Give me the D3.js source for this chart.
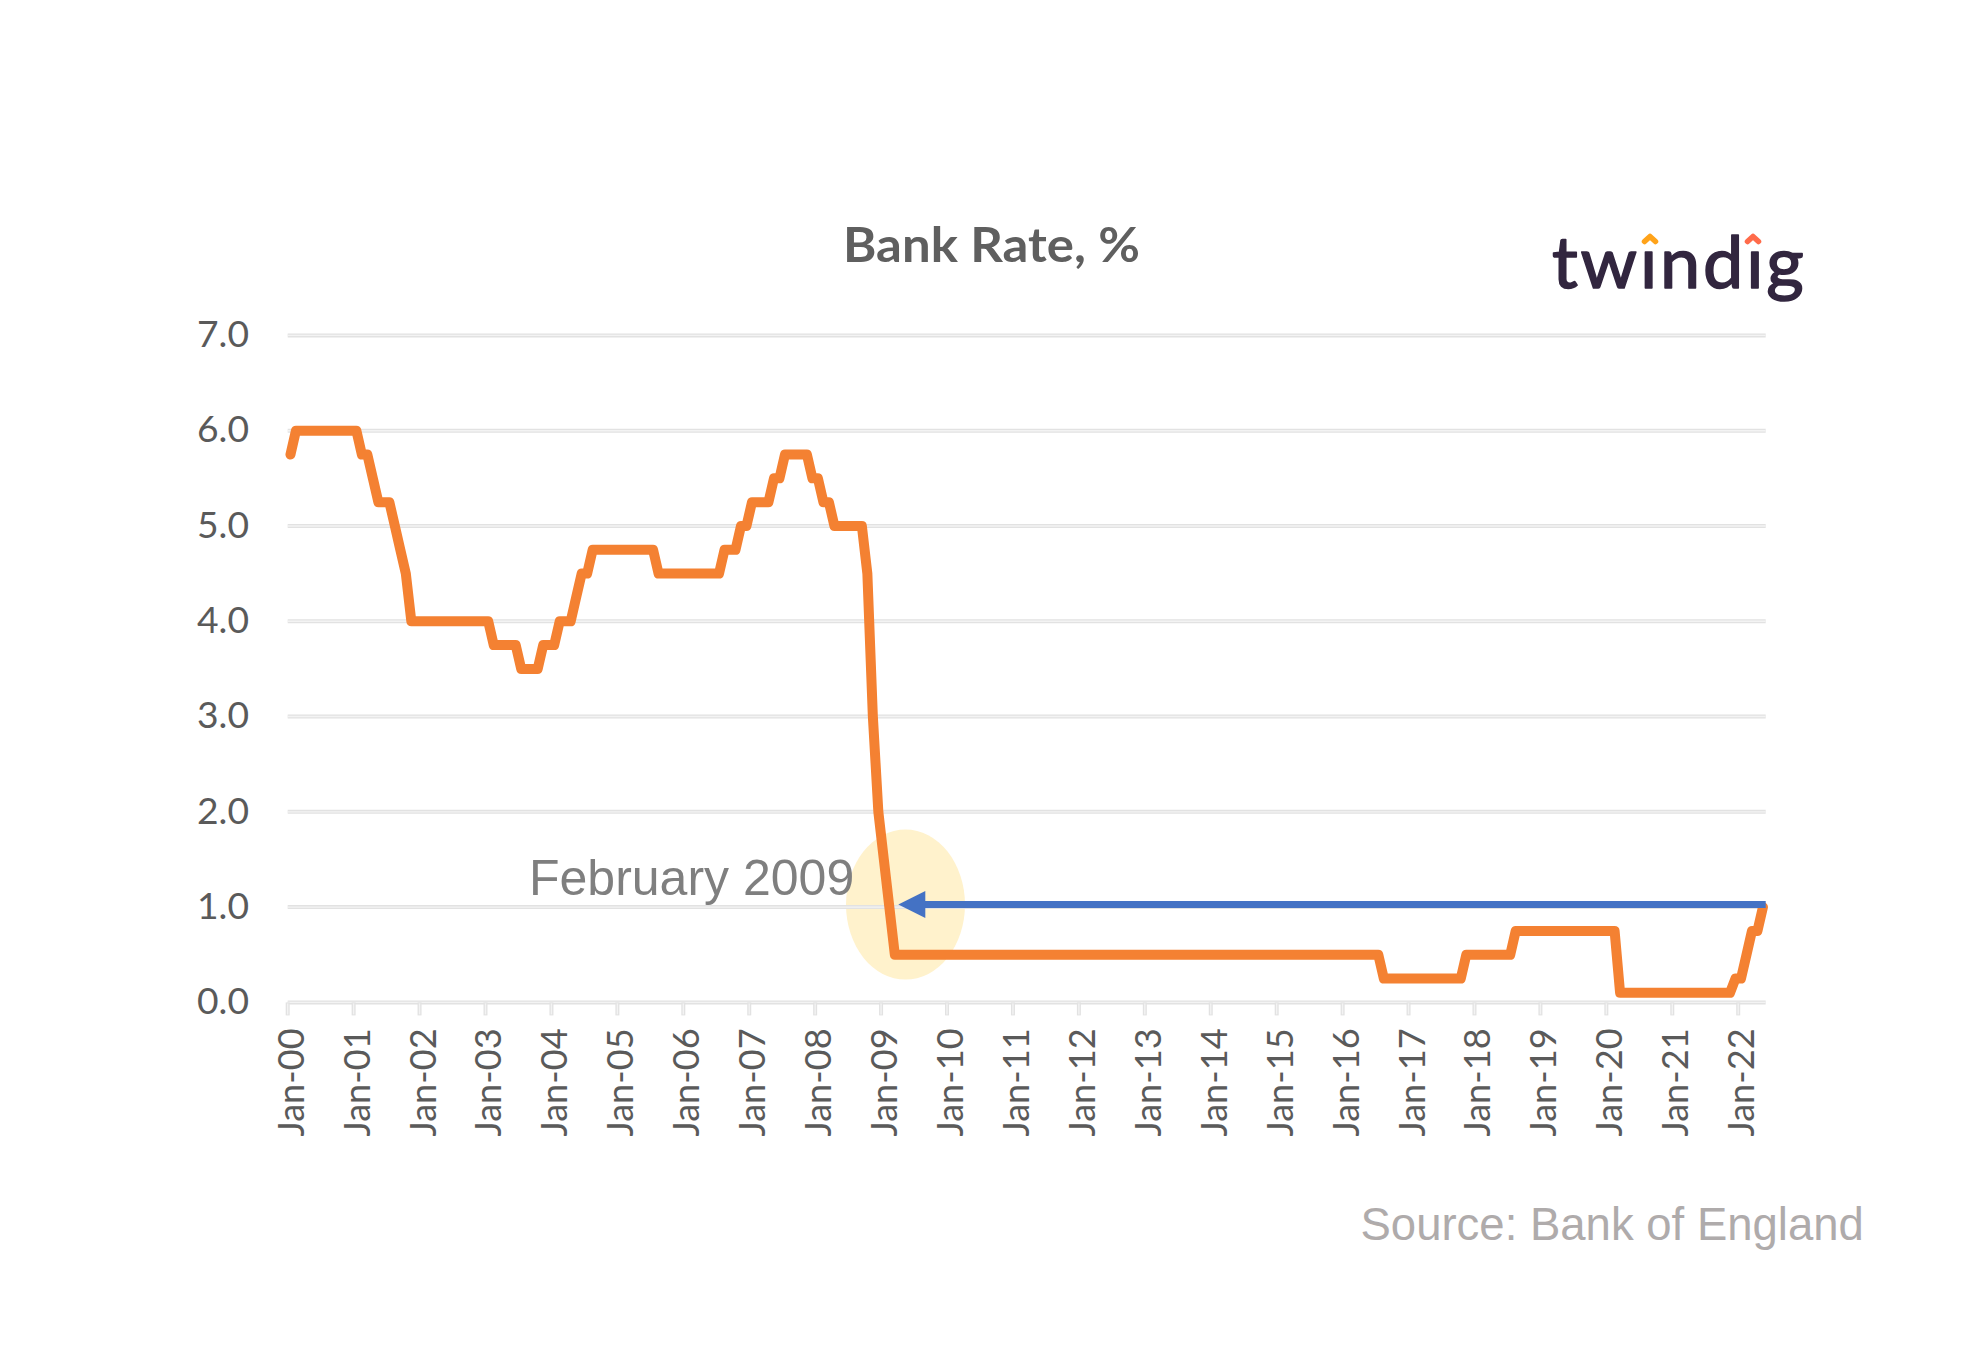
<!DOCTYPE html>
<html>
<head>
<meta charset="utf-8">
<script src="https://cdn.jsdelivr.net/npm/d3@7"></script>
<style>html,body{margin:0;padding:0;background:#fff}svg{display:block}</style>
</head>
<body>
<svg id="chart" width="1984" height="1366"></svg>
<script>
const chartTitle = "Bank Rate, %";
const sourceNote = "Source: Bank of England";
const calloutLabel = "February 2009";
const logoWord = "twindig";
const yTicks = [0, 1, 2, 3, 4, 5, 6, 7];
const tickLabels = ["Jan-00","Jan-01","Jan-02","Jan-03","Jan-04","Jan-05","Jan-06","Jan-07","Jan-08","Jan-09","Jan-10","Jan-11","Jan-12","Jan-13","Jan-14","Jan-15","Jan-16","Jan-17","Jan-18","Jan-19","Jan-20","Jan-21","Jan-22"];
const rate2000 = [5.75,6,6,6,6,6,6,6,6,6,6,6];
const rate2001 = [6,5.75,5.75,5.5,5.25,5.25,5.25,5,4.75,4.5,4,4];
const rate2002 = [4,4,4,4,4,4,4,4,4,4,4,4];
const rate2003 = [4,3.75,3.75,3.75,3.75,3.75,3.5,3.5,3.5,3.5,3.75,3.75];
const rate2004 = [3.75,4,4,4,4.25,4.5,4.5,4.75,4.75,4.75,4.75,4.75];
const rate2005 = [4.75,4.75,4.75,4.75,4.75,4.75,4.75,4.5,4.5,4.5,4.5,4.5];
const rate2006 = [4.5,4.5,4.5,4.5,4.5,4.5,4.5,4.75,4.75,4.75,5,5];
const rate2007 = [5.25,5.25,5.25,5.25,5.5,5.5,5.75,5.75,5.75,5.75,5.75,5.5];
const rate2008 = [5.5,5.25,5.25,5,5,5,5,5,5,4.5,3,2];
const rate2009 = [1.5,1,0.5,0.5,0.5,0.5,0.5,0.5,0.5,0.5,0.5,0.5];
const rate2010 = [0.5,0.5,0.5,0.5,0.5,0.5,0.5,0.5,0.5,0.5,0.5,0.5];
const rate2011 = [0.5,0.5,0.5,0.5,0.5,0.5,0.5,0.5,0.5,0.5,0.5,0.5];
const rate2012 = [0.5,0.5,0.5,0.5,0.5,0.5,0.5,0.5,0.5,0.5,0.5,0.5];
const rate2013 = [0.5,0.5,0.5,0.5,0.5,0.5,0.5,0.5,0.5,0.5,0.5,0.5];
const rate2014 = [0.5,0.5,0.5,0.5,0.5,0.5,0.5,0.5,0.5,0.5,0.5,0.5];
const rate2015 = [0.5,0.5,0.5,0.5,0.5,0.5,0.5,0.5,0.5,0.5,0.5,0.5];
const rate2016 = [0.5,0.5,0.5,0.5,0.5,0.5,0.5,0.25,0.25,0.25,0.25,0.25];
const rate2017 = [0.25,0.25,0.25,0.25,0.25,0.25,0.25,0.25,0.25,0.25,0.5,0.5];
const rate2018 = [0.5,0.5,0.5,0.5,0.5,0.5,0.5,0.75,0.75,0.75,0.75,0.75];
const rate2019 = [0.75,0.75,0.75,0.75,0.75,0.75,0.75,0.75,0.75,0.75,0.75,0.75];
const rate2020 = [0.75,0.75,0.1,0.1,0.1,0.1,0.1,0.1,0.1,0.1,0.1,0.1];
const rate2021 = [0.1,0.1,0.1,0.1,0.1,0.1,0.1,0.1,0.1,0.1,0.1,0.25];
const rate2022 = [0.25,0.5,0.75,0.75,1];
const rates = [].concat(rate2000,rate2001,rate2002,rate2003,rate2004,rate2005,rate2006,rate2007,rate2008,rate2009,rate2010,rate2011,rate2012,rate2013,rate2014,rate2015,rate2016,rate2017,rate2018,rate2019,rate2020,rate2021,rate2022);

const svg = d3.select("#chart");
const plot = {left: 287.7, right: 1765.7, top: 335.4, bottom: 1002.4};
const months = d3.range(rates.length);
const x = d3.scaleBand().domain(months).range([plot.left, plot.right]);
const y = d3.scaleLinear().domain([0, 7]).range([plot.bottom, plot.top]);
const cx = i => x(i) + x.bandwidth() / 2;
const labelFont = "Lato, sans-serif";
const gridOuter = "#E2E2E2", gridInner = "#F3F3F3";

// highlight ellipse
svg.append("ellipse")
  .attr("cx", 905.5).attr("cy", y(1) - 2.5).attr("rx", 59.5).attr("ry", 75)
  .attr("fill", "#FFF2CC");

// gridlines, double-toned like the upscaled original
const gridG = svg.append("g");
[[gridOuter, 4], [gridInner, 1.4]].forEach(([c, w]) => {
  gridG.append("g").selectAll("line").data(yTicks).join("line")
    .attr("x1", plot.left).attr("x2", plot.right)
    .attr("y1", d => y(d)).attr("y2", d => y(d))
    .attr("stroke", c).attr("stroke-width", w);
});

// y labels
const yAxis = d3.axisLeft(y).tickValues(yTicks).tickFormat(d3.format(".1f")).tickSize(0).tickPadding(0);
const yG = svg.append("g").attr("transform", "translate(249,0)").call(yAxis);
yG.select(".domain").remove();
yG.selectAll("text").attr("font-family", labelFont).attr("font-size", 36).attr("fill", "#5A5A5A")
  .attr("dy", "0.31em").attr("textLength", 52).attr("lengthAdjust", "spacingAndGlyphs");

// x axis
const xTickIdx = tickLabels.map((_, i) => i * 12);
const xAxis = d3.axisBottom(x).tickValues(xTickIdx).tickFormat(i => tickLabels[i / 12]).tickSize(13).tickPadding(0).tickSizeOuter(0);
const xG = svg.append("g").attr("transform", `translate(0,${plot.bottom})`).call(xAxis);
xG.select(".domain").remove();
xG.selectAll(".tick").attr("transform", i => `translate(${x(i)},0)`);
xG.selectAll(".tick line").attr("stroke", gridOuter).attr("stroke-width", 4);
xG.selectAll(".tick").append("line").attr("y1", 1).attr("y2", 12).attr("stroke", gridInner).attr("stroke-width", 1.4);
xG.selectAll(".tick text")
  .attr("font-family", labelFont).attr("font-size", 36).attr("fill", "#5A5A5A")
  .attr("text-anchor", "end").attr("dy", null)
  .attr("transform", "translate(16,26) rotate(-90)")
  .attr("x", 0).attr("y", 0)
  .attr("textLength", 108).attr("lengthAdjust", "spacingAndGlyphs");

// callout label
svg.append("text").text(calloutLabel)
  .attr("x", 529).attr("y", 895)
  .attr("font-family", "'Liberation Sans', Arial, sans-serif").attr("font-size", 50).attr("fill", "#7F7F7F");

// rate line
svg.append("path").datum(months)
  .attr("fill", "none").attr("stroke", "#F48132").attr("stroke-width", 10)
  .attr("stroke-linejoin", "round").attr("stroke-linecap", "round")
  .attr("d", d3.line().x(cx).y(i => y(rates[i])));

// arrow
const arrowY = y(1) - 2.5;
const arrowTipX = cx(109) + 9;
svg.append("line")
  .attr("x1", plot.right).attr("x2", arrowTipX + 20)
  .attr("y1", arrowY).attr("y2", arrowY)
  .attr("stroke", "#4472C4").attr("stroke-width", 7);
svg.append("path")
  .attr("d", d3.line()([[arrowTipX, arrowY], [arrowTipX + 27, arrowY - 13.5], [arrowTipX + 27, arrowY + 13.5]]) + "Z")
  .attr("fill", "#4472C4");

// title and source
svg.append("text").text(chartTitle)
  .attr("x", 843).attr("y", 262)
  .attr("font-family", labelFont).attr("font-weight", 700).attr("font-size", 47).attr("fill", "#5F5F5F")
  .attr("textLength", 297).attr("lengthAdjust", "spacingAndGlyphs");
svg.append("text").text(sourceNote)
  .attr("x", 1360.5).attr("y", 1240)
  .attr("font-family", "'Liberation Sans', Arial, sans-serif").attr("font-size", 45.5).attr("fill", "#AFABAB");

// logo
const logo = svg.append("g");
logo.append("text").text(logoWord)
  .attr("x", 1552).attr("y", 288)
  .attr("font-family", labelFont).attr("font-size", 72).attr("letter-spacing", 2.8)
  .attr("fill", "#32263F").attr("stroke", "#32263F").attr("stroke-width", 1.6).attr("stroke-linejoin", "round");
const chevron = d3.line();
[[1650, "#FFA31A"], [1753, "#FF6B4A"]].forEach(([cxp, col]) => {
  logo.append("rect").attr("x", cxp - 9).attr("y", 228).attr("width", 18).attr("height", 22).attr("fill", "#fff");
  logo.append("path")
    .attr("d", chevron([[cxp - 5.5, 241.5], [cxp, 236.5], [cxp + 5.5, 241.5]]))
    .attr("fill", "none").attr("stroke", col).attr("stroke-width", 5.5)
    .attr("stroke-linecap", "round").attr("stroke-linejoin", "round");
});
</script>
</body>
</html>
